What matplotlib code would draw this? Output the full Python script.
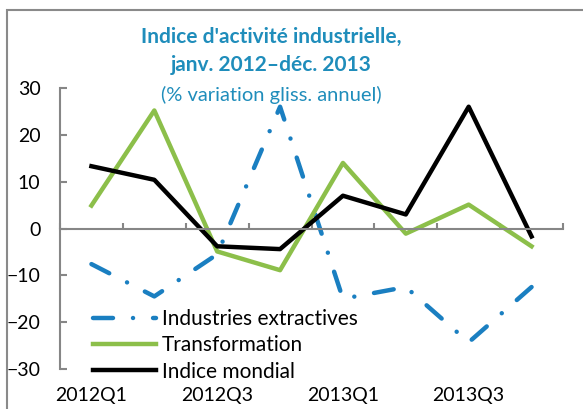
import numpy as np
import matplotlib.pyplot as plt
from matplotlib.patches import Rectangle

plt.rcParams['font.family'] = ['Lato', 'DejaVu Sans']

quarters = ['2012Q1', '2012Q2', '2012Q3', '2012Q4', '2013Q1', '2013Q2', '2013Q3', '2013Q4']
extractives = [-7.6, -14.5, -5.5, 26.0, -15.0, -12.5, -24.3, -12.5]
transformation = [4.9, 25.2, -4.9, -8.9, 14.0, -1.1, 5.1, -3.8]
mondial = [13.3, 10.4, -3.8, -4.4, 7.0, 3.0, 26.0, -1.7]
xlabels = ['2012Q1', '2012Q3', '2013Q1', '2013Q3']

blue = '#1a7fc1'
green = '#8cbf4a'
teal = '#1f8dbb'
gray = '#868686'

fig = plt.figure(figsize=(5.83, 4.09), dpi=100)
ax = fig.add_axes([60/583, 1-369/409, 503/583, 281/409])

x = np.arange(len(quarters))
ax.plot(x, extractives, color=blue, lw=3.2, dashes=(4.5, 4.5, 0.01, 4.5),
        dash_capstyle='round', label='Industries extractives')
ax.plot(x, transformation, color=green, lw=3.2, label='Transformation')
ax.plot(x, mondial, color='black', lw=3.2, label='Indice mondial')

ax.set_xlim(-0.5, 7.5)
ax.set_ylim(-30, 30)
ax.set_yticks(np.arange(-30, 31, 10))
ax.set_xticks(np.arange(-0.5, 8, 1))
ax.set_xticklabels([])
for s in ['top', 'right']:
    ax.spines[s].set_visible(False)
ax.spines['bottom'].set_position(('data', 0))
ax.spines['bottom'].set_color(gray)
ax.spines['left'].set_color(gray)
ax.spines['bottom'].set_linewidth(1.5)
ax.spines['left'].set_linewidth(1.5)
ax.tick_params(axis='y', direction='in', length=5, width=1.5, color=gray,
               labelsize=14, pad=14)
ax.tick_params(axis='x', direction='in', length=4, width=1.5, color=gray)

for lab in xlabels:
    ax.text(quarters.index(lab), -0.093, lab, transform=ax.get_xaxis_transform(),
            ha='center', va='center', fontsize=14)

ax.legend(loc='lower left', bbox_to_anchor=(0.05, -0.075), frameon=False,
          fontsize=15, handlelength=3.0, handletextpad=0.3, labelspacing=0.3,
          borderaxespad=0)

fig.text(271/583, 1-37/409, "Indice d'activité industrielle,", color=teal,
         fontsize=15, fontweight='bold', ha='center', va='center')
fig.text(271/583, 1-65/409, "janv. 2012–déc. 2013", color=teal,
         fontsize=15, fontweight='bold', ha='center', va='center')
fig.text(271/583, 1-95/409, "(% variation gliss. annuel)", color=teal,
         fontsize=14.5, ha='center', va='center')

fig.patches.append(Rectangle((7/583, -0.1), 1.1, 1 - 10/409 + 0.1,
                             transform=fig.transFigure, fill=False,
                             edgecolor='#8a8a8a', lw=1.5))

fig.savefig('out.png', dpi=100)
